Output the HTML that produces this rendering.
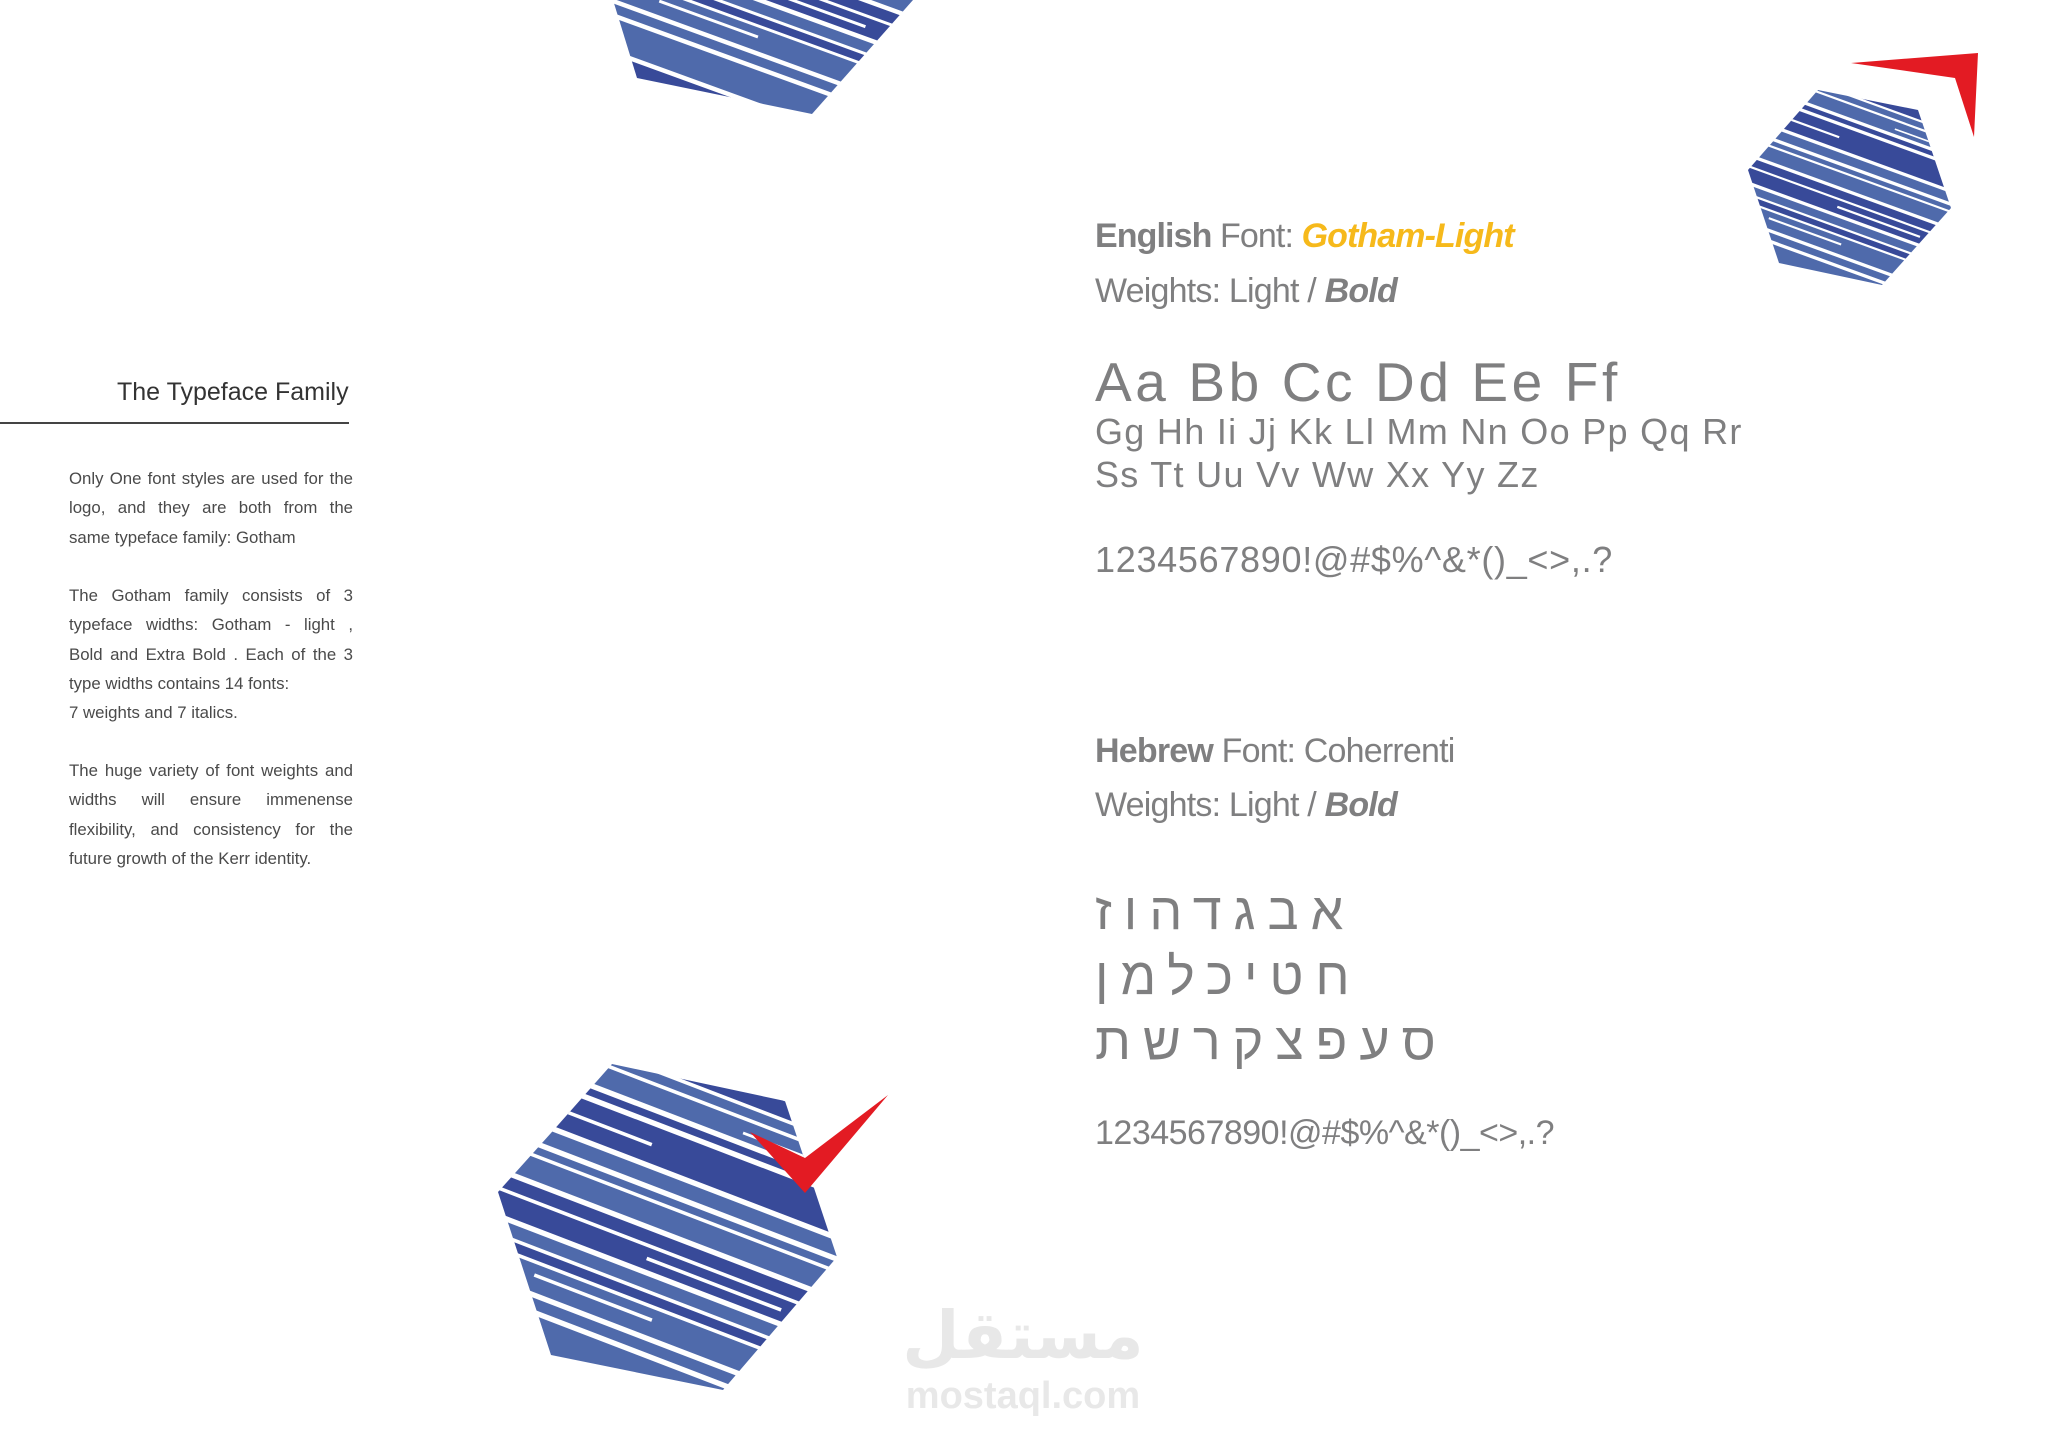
<!DOCTYPE html>
<html><head><meta charset="utf-8"><style>
html,body{margin:0;padding:0;background:#fff;}
body{width:2048px;height:1448px;position:relative;overflow:hidden;font-family:"Liberation Sans",sans-serif;}
.t{position:absolute;white-space:nowrap;line-height:1;}
.g{color:#7f7f80;}
.para{position:absolute;left:69px;width:284px;font-size:16.8px;line-height:29.3px;color:#4a4a4a;}
.para div{text-align:justify;text-align-last:justify;white-space:nowrap;}
.para div.l{text-align-last:left;}
.heb{font-size:52px;letter-spacing:12px;font-family:'Liberation Sans','DejaVu Sans',sans-serif;}
</style></head><body>
<svg width="2048" height="1448" style="position:absolute;left:0;top:0">
<defs>
<clipPath id="ct"><polygon points="600,-100 960,-100 913,0 812,114 637,78 613,0"/></clipPath>
<clipPath id="cr"><polygon points="1818,90 1918,110 1951,208 1882,285 1779,263 1748,170"/></clipPath>
<clipPath id="cb"><polygon points="612,1064 785,1101 837,1257 723,1390 551,1355 498,1192 551,1133"/></clipPath>
<g id="st">
<rect x="-300" y="-220" width="600" height="22" fill="#4f6aab"/>
<rect x="-300" y="-194" width="600" height="12" fill="#384a99"/>
<rect x="-300" y="-178" width="600" height="18" fill="#384a99"/>
<rect x="-300" y="-156" width="600" height="10" fill="#4f6aab"/>
<rect x="-300" y="-142" width="600" height="22" fill="#4f6aab"/>
<rect x="-300" y="-114" width="600" height="8" fill="#384a99"/>
<rect x="-300" y="-100" width="600" height="40" fill="#384a99"/>
<rect x="-300" y="-54" width="600" height="16" fill="#4f6aab"/>
<rect x="-300" y="-32" width="600" height="8" fill="#4f6aab"/>
<rect x="-300" y="-20" width="600" height="24" fill="#4f6aab"/>
<rect x="-300" y="10" width="600" height="14" fill="#384a99"/>
<rect x="-300" y="28" width="600" height="24" fill="#384a99"/>
<rect x="-300" y="58" width="600" height="14" fill="#4f6aab"/>
<rect x="-300" y="76" width="600" height="10" fill="#384a99"/>
<rect x="-300" y="90" width="600" height="30" fill="#4f6aab"/>
<rect x="-300" y="126" width="600" height="12" fill="#4f6aab"/>
<rect x="-300" y="144" width="600" height="40" fill="#4f6aab"/>
<rect x="-300" y="190" width="600" height="40" fill="#384a99"/>
<rect x="-200" y="-82" width="150" height="4" fill="#fff"/>
<rect x="-10" y="38" width="160" height="4" fill="#fff"/>
<rect x="-120" y="100" width="140" height="4" fill="#fff"/>
<rect x="40" y="-130" width="120" height="3" fill="#fff"/>
</g>
</defs>
<g clip-path="url(#ct)"><g transform="translate(770,-40) rotate(20) scale(0.75)"><use href="#st"/></g></g>
<g clip-path="url(#cr)"><g transform="translate(1850,188) rotate(20) scale(0.55)"><use href="#st"/></g></g>
<g clip-path="url(#cb)"><g transform="translate(668,1228) rotate(21) scale(0.9)"><use href="#st"/></g></g>
<polygon points="1851,63 1978,53 1974,137 1955,78" fill="#e31b23"/>
<polygon points="750,1132 805,1158 888,1095 805,1193" fill="#e31b23"/>
<line x1="0" y1="423" x2="349" y2="423" stroke="#444" stroke-width="2"/>
</svg>

<div class="t" style="left:117px;top:380px;font-size:25px;color:#333">The Typeface Family</div>
<div class="para" style="top:464px">
<div>Only One font styles are used for the</div>
<div>logo, and they are both from the</div>
<div class="l">same typeface family: Gotham</div>
</div>
<div class="para" style="top:581px">
<div>The Gotham family consists of 3</div>
<div>typeface widths: Gotham - light ,</div>
<div>Bold and Extra Bold . Each of the 3</div>
<div class="l">type widths contains 14 fonts:</div>
<div class="l">7 weights and 7 italics.</div>
</div>
<div class="para" style="top:756px">
<div>The huge variety of font weights and</div>
<div>widths will ensure immenense</div>
<div>flexibility, and consistency for the</div>
<div class="l">future growth of the Kerr identity.</div>
</div>

<div class="t g" style="left:1095px;top:219px;font-size:34px;letter-spacing:-0.9px"><b>English</b> Font: <i style="color:#f6b91b;font-weight:bold">Gotham-Light</i></div>
<div class="t g" style="left:1095px;top:274px;font-size:34px;letter-spacing:-0.8px">Weights: Light / <b><i>Bold</i></b></div>
<div class="t g" style="left:1095px;top:355px;font-size:55px;letter-spacing:3.6px">Aa Bb Cc Dd Ee Ff</div>
<div class="t g" style="left:1095px;top:414px;font-size:36px;letter-spacing:1.3px">Gg Hh Ii Jj Kk Ll Mm Nn Oo Pp Qq Rr</div>
<div class="t g" style="left:1095px;top:457px;font-size:36px;letter-spacing:1.3px">Ss Tt Uu Vv Ww Xx Yy Zz</div>
<div class="t g" style="left:1095px;top:542px;font-size:36px;letter-spacing:0.7px">1234567890!@#$%^&amp;*()_&lt;&gt;,.?</div>

<div class="t g" style="left:1095px;top:734px;font-size:34px;letter-spacing:-0.8px"><b>Hebrew</b> Font: Coherrenti</div>
<div class="t g" style="left:1095px;top:788px;font-size:34px;letter-spacing:-0.8px">Weights: Light / <b><i>Bold</i></b></div>
<div class="t g heb" dir="rtl" style="left:1095px;top:886px">אבגדהוז</div>
<div class="t g heb" dir="rtl" style="left:1095px;top:951px">חטיכלמן</div>
<div class="t g heb" dir="rtl" style="left:1095px;top:1016px">סעפצקרשת</div>
<div class="t g" style="left:1095px;top:1116px;font-size:34px;letter-spacing:-0.5px">1234567890!@#$%^&amp;*()_&lt;&gt;,.?</div>

<div class="t" style="left:893px;top:1302px;width:260px;text-align:center;font-size:66px;font-weight:bold;color:#e8e8e8;font-family:'Liberation Sans','DejaVu Sans',sans-serif">مستقل</div>
<div class="t" style="left:893px;top:1377px;width:260px;text-align:center;font-size:38px;font-weight:bold;color:#e8e8e8">mostaql.com</div>
</body></html>
